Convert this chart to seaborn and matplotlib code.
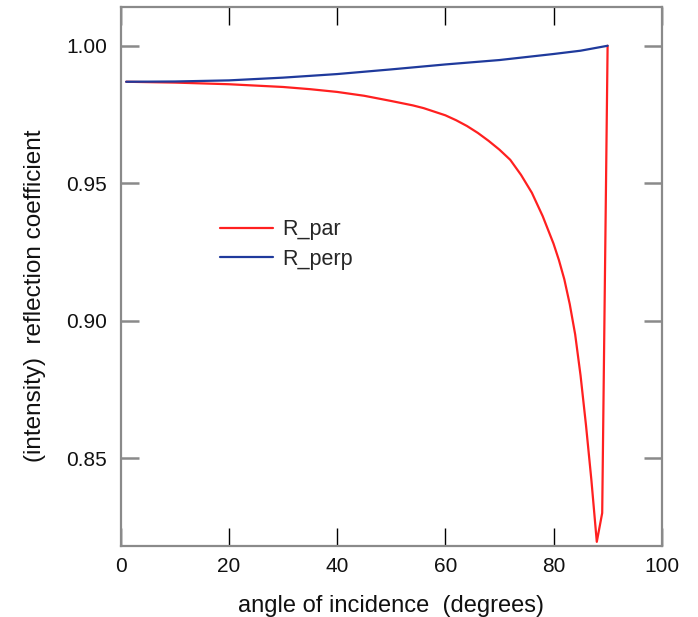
import numpy as np
import pandas as pd
import matplotlib
matplotlib.use("Agg")
import matplotlib.pyplot as plt
import seaborn as sns

# Reflection coefficients (intensity) vs. angle of incidence, in degrees
angle_par = [1, 10, 20, 30, 35, 40, 45, 50, 52, 54, 56, 58, 60, 62, 64, 66, 68,
             70, 72, 74, 76, 78, 80, 81, 82, 83, 84, 85, 86, 87, 88, 89, 90]
r_par = [0.9869, 0.9866, 0.9860, 0.9850, 0.9842, 0.9832, 0.9818, 0.9799,
         0.9791, 0.9783, 0.9773, 0.9760, 0.9747, 0.9729, 0.9708, 0.9683,
         0.9654, 0.9622, 0.9585, 0.9530, 0.9465, 0.9380, 0.9280, 0.9220,
         0.9150, 0.9060, 0.8950, 0.8800, 0.8620, 0.8420, 0.8195, 0.8300,
         1.0000]

angle_perp = [1, 10, 20, 30, 40, 50, 60, 70, 80, 85, 90]
r_perp = [0.9869, 0.9870, 0.9874, 0.9884, 0.9897, 0.9914, 0.9932, 0.9948,
          0.9970, 0.9982, 1.0000]

series_names = ["R_par", "R_perp"]
series_colors = ["#ff2020", "#1f3a9c"]

x_ticks = [0, 20, 40, 60, 80, 100]
y_ticks = [0.85, 0.90, 0.95, 1.00]

df = pd.concat([
    pd.DataFrame({"angle": angle_par, "R": r_par, "series": series_names[0]}),
    pd.DataFrame({"angle": angle_perp, "R": r_perp, "series": series_names[1]}),
], ignore_index=True)

sns.set_theme(style="white")
plt.rcParams["font.family"] = ["Liberation Sans", "DejaVu Sans"]

fig = plt.figure(figsize=(6.98, 6.17), dpi=100)
ax = fig.add_axes([0.173, 0.1156, 0.775, 0.8726])

sns.lineplot(data=df, x="angle", y="R", hue="series", hue_order=series_names,
             palette=dict(zip(series_names, series_colors)), linewidth=1.6,
             sort=False, estimator=None, ax=ax)

ax.set_xlim(0, 100)
ax.set_ylim(0.8181, 1.0140)
ax.set_xticks(x_ticks)
ax.set_yticks(y_ticks)
ax.set_xticklabels([str(t) for t in x_ticks])
ax.set_yticklabels([f"{t:.2f}" for t in y_ticks])

for s in ax.spines.values():
    s.set_color("#8a8a8a")
    s.set_linewidth(1.6)
    s.set_visible(True)

ax.tick_params(axis="x", which="major", direction="in", length=13, width=1.0,
               color="black", top=True, bottom=True, labelsize=15, pad=8,
               labelcolor="#111111")
ax.tick_params(axis="y", which="major", direction="in", length=13, width=1.8,
               color="#8a8a8a", left=True, right=True, labelsize=15, pad=10,
               labelcolor="#111111")

ax.set_xlabel("angle of incidence  (degrees)", fontsize=17, color="#111111",
              labelpad=14)
ax.set_ylabel("(intensity)  reflection coefficient", fontsize=17.5,
              color="#111111")
ax.yaxis.set_label_coords(-0.138, 0.465)

leg = ax.legend(loc="upper left", bbox_to_anchor=(0.168, 0.622), frameon=False,
                fontsize=15.5, handlelength=2.45, handletextpad=0.45,
                labelspacing=0.4, borderaxespad=0)
for line in leg.get_lines():
    line.set_linewidth(1.6)

fig.savefig("out.png", dpi=100)
